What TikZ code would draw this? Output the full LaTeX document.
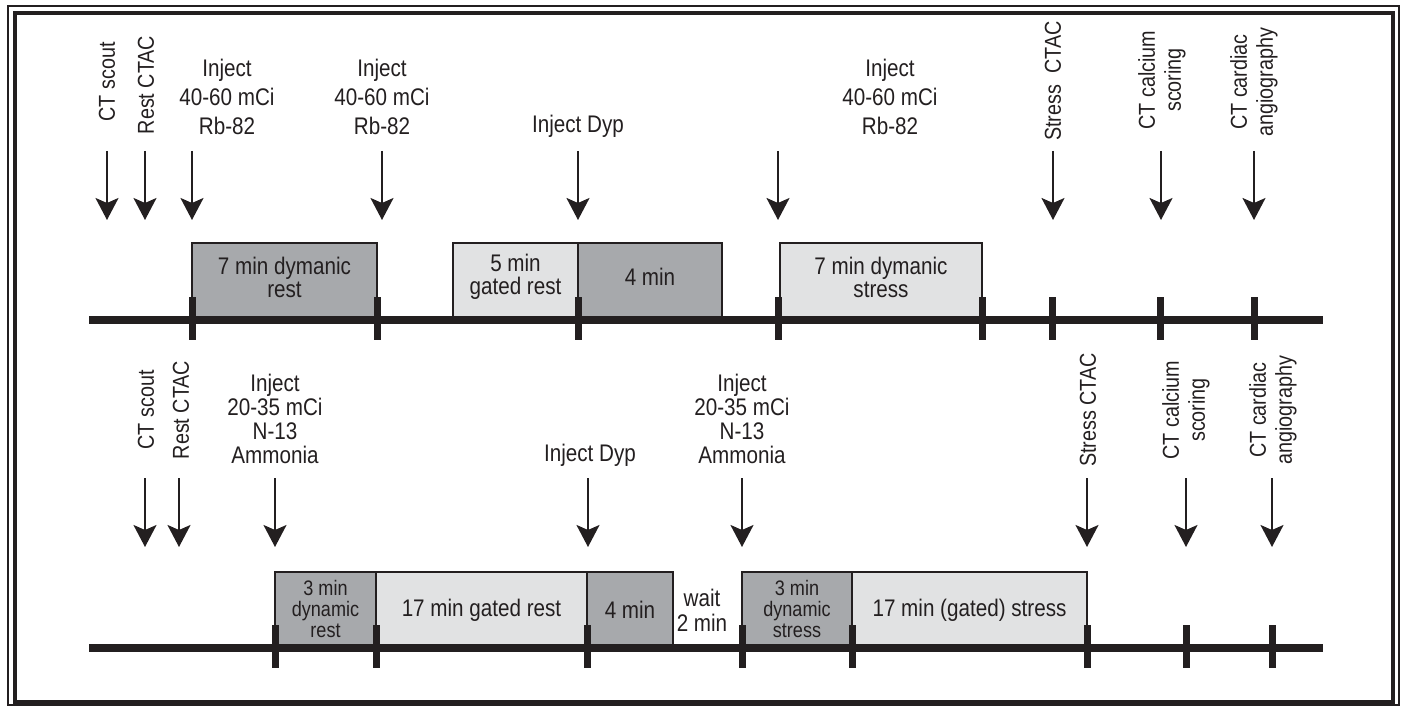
\documentclass[tikz,border=0pt]{standalone}
\usepackage{fontspec}
\setmainfont[FakeStretch=0.86]{Liberation Sans}
\usetikzlibrary{arrows.meta}
\definecolor{ink}{HTML}{231F20}
\definecolor{darkgrey}{HTML}{A7A9AC}
\definecolor{lightgrey}{HTML}{E1E2E3}

\begin{document}
\begin{tikzpicture}[x=0.5pt, y=-0.5pt,
    >={Stealth[length=11pt, width=11.5pt, inset=2.5pt]},
    evt/.style={->, ink, line width=1pt},
    axis/.style={ink, line width=4pt},
    tick/.style={ink, line width=3.5pt},
    darkbox/.style={draw=ink, fill=darkgrey, line width=1pt},
    lightbox/.style={draw=ink, fill=lightgrey, line width=1pt},
    lbl/.style={text=ink, align=center, inner sep=0pt, font=\fontsize{12}{14.5}\selectfont},
    lbltight/.style={lbl, font=\fontsize{12}{12}\selectfont},
    vlbl/.style={text=ink, align=center, inner sep=0pt, rotate=90, font=\fontsize{11.5}{13}\selectfont},
    boxtxt/.style={text=ink, align=center, inner sep=0pt, font=\fontsize{12}{11.5}\selectfont},
    boxsmall/.style={text=ink, align=center, inner sep=0pt, font=\fontsize{10.5}{10.7}\selectfont}]
    \useasboundingbox (0,0) rectangle (1403,706);

    % 1. Double frame round the picture
    \draw[ink, line width=1pt] (8,6) rectangle (1399,705);
    \draw[ink, line width=2pt] (15.3,13.5) rectangle (1392.5,702);

    % 2. Rb-82 protocol (top row)
    % Scan blocks
    \draw[darkbox] (192,243) rectangle (377,320);
    \draw[lightbox] (453,243) rectangle (578,320);
    \draw[darkbox] (578,243) rectangle (722,320);
    \draw[lightbox] (780,243) rectangle (982,320);
    \node[boxtxt] (rbrest) at (284.5,277) {7 min dymanic\\rest};
    \node[boxtxt] (rbgated) at (515.5,277) {5 min\\gated rest};
    \node[boxtxt] (rbfour) at (650,277) {4 min};
    \node[boxtxt] (rbstress) at (881,277) {7 min dymanic\\stress};

    % Time line and ticks
    \coordinate (rbstart) at (89,320);
    \coordinate (rbend) at (1323,320);
    \draw[axis] (rbstart) -- (rbend);
    \foreach \x in {192, 377, 578, 778, 982, 1052, 1160, 1254} \draw[tick] (\x,297) -- (\x,340);

    % Labels
    \node[vlbl] (rbscout) at (107,82) {CT scout};
    \node[vlbl] (rbrestct) at (146,85) {Rest CTAC};
    \node[lbl] (rbinja) at (227,97) {Inject\\40-60 mCi\\Rb-82};
    \node[lbl] (rbinjb) at (382,97) {Inject\\40-60 mCi\\Rb-82};
    \node[lbl] (rbdyp) at (578,126) {Inject Dyp};
    \node[lbl] (rbinjc) at (890,97) {Inject\\40-60 mCi\\Rb-82};
    \node[vlbl] (rbstressct) at (1053,81) {Stress\ \ CTAC};
    \node[vlbl] (rbcalc) at (1162,80) {CT calcium\\scoring};
    \node[vlbl] (rbangio) at (1254,82) {CT cardiac\\angiography};

    % Event arrows
    \foreach \x [count=\i] in {107, 145, 192, 382, 578, 778, 1053, 1161, 1254} {
        \coordinate (rbtop\i) at (\x,151);
        \coordinate (rbtip\i) at (\x,220);
        \draw[evt] (rbtop\i) -- (rbtip\i);
    }

    % 3. N-13 ammonia protocol (bottom row)
    % Scan blocks
    \draw[darkbox] (275,572) rectangle (376,648);
    \draw[lightbox] (376,572) rectangle (587,648);
    \draw[darkbox] (587,572) rectangle (673,648);
    \draw[darkbox] (742,572) rectangle (852,648);
    \draw[lightbox] (852,572) rectangle (1087,648);
    \node[boxsmall] (nhrest) at (325.5,609) {3 min\\dynamic\\rest};
    \node[boxtxt] (nhgated) at (481.5,610) {17 min gated rest};
    \node[boxtxt] (nhfour) at (630,610) {4 min};
    \node[lbl, font=\fontsize{12}{12.5}\selectfont] (nhwait) at (702,610) {wait\\2 min};
    \node[boxsmall] (nhstress) at (797,609) {3 min\\dynamic\\stress};
    \node[boxtxt] (nhgstress) at (969.5,610) {17 min (gated) stress};

    % Time line and ticks
    \coordinate (nhstart) at (89,648);
    \coordinate (nhend) at (1323,648);
    \draw[axis] (nhstart) -- (nhend);
    \foreach \x in {275, 376, 587, 742, 852, 1087, 1186, 1272} \draw[tick] (\x,625) -- (\x,668);

    % Labels
    \node[vlbl] (nhscout) at (146,410) {CT scout};
    \node[vlbl] (nhrestct) at (181,410) {Rest CTAC};
    \node[lbltight] (nhinja) at (275,419) {Inject\\20-35 mCi\\N-13\\Ammonia};
    \node[lbl] (nhdyp) at (590,455) {Inject Dyp};
    \node[lbltight] (nhinjb) at (742,419) {Inject\\20-35 mCi\\N-13\\Ammonia};
    \node[vlbl] (nhstressct) at (1088,410) {Stress CTAC};
    \node[vlbl] (nhcalc) at (1186,410) {CT calcium\\scoring};
    \node[vlbl] (nhangio) at (1273,410) {CT cardiac\\angiography};

    % Event arrows
    \foreach \x [count=\i] in {145, 179, 275, 588, 742, 1087, 1186, 1272} {
        \coordinate (nhtop\i) at (\x,478);
        \coordinate (nhtip\i) at (\x,547);
        \draw[evt] (nhtop\i) -- (nhtip\i);
    }
\end{tikzpicture}
\end{document}
